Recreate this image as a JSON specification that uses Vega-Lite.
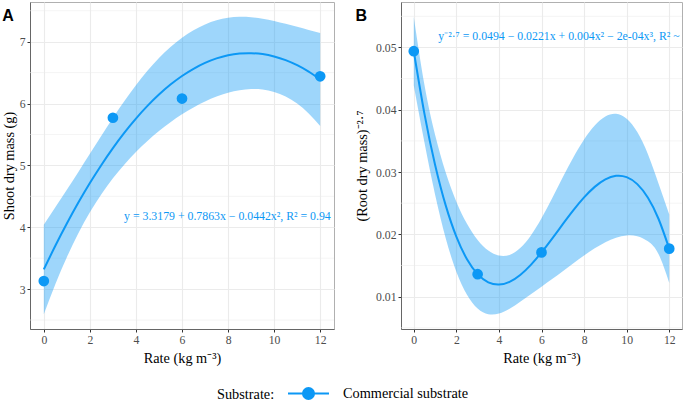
{
  "$schema": "https://vega.github.io/schema/vega-lite/v6.json",
  "padding": {"left": 1, "top": 1, "right": 0, "bottom": 0},
  "spacing": 20,
  "datasets": {
    "fitA": [
      {"x": 0, "fit": 3.318, "lo": 2.595, "hi": 4.041},
      {"x": 0.5, "fit": 3.7, "lo": 3.078, "hi": 4.322},
      {"x": 1, "fit": 4.06, "lo": 3.515, "hi": 4.605},
      {"x": 1.5, "fit": 4.398, "lo": 3.902, "hi": 4.894},
      {"x": 2, "fit": 4.714, "lo": 4.241, "hi": 5.187},
      {"x": 2.5, "fit": 5.007, "lo": 4.534, "hi": 5.48},
      {"x": 3, "fit": 5.279, "lo": 4.791, "hi": 5.767},
      {"x": 3.5, "fit": 5.529, "lo": 5.016, "hi": 6.042},
      {"x": 4, "fit": 5.756, "lo": 5.216, "hi": 6.296},
      {"x": 4.5, "fit": 5.961, "lo": 5.394, "hi": 6.528},
      {"x": 5, "fit": 6.144, "lo": 5.554, "hi": 6.734},
      {"x": 5.5, "fit": 6.306, "lo": 5.698, "hi": 6.914},
      {"x": 6, "fit": 6.445, "lo": 5.826, "hi": 7.064},
      {"x": 6.5, "fit": 6.561, "lo": 5.937, "hi": 7.185},
      {"x": 7, "fit": 6.656, "lo": 6.033, "hi": 7.279},
      {"x": 7.5, "fit": 6.729, "lo": 6.112, "hi": 7.346},
      {"x": 8, "fit": 6.78, "lo": 6.174, "hi": 7.386},
      {"x": 8.5, "fit": 6.808, "lo": 6.215, "hi": 7.401},
      {"x": 9, "fit": 6.814, "lo": 6.234, "hi": 7.394},
      {"x": 9.5, "fit": 6.799, "lo": 6.227, "hi": 7.371},
      {"x": 10, "fit": 6.761, "lo": 6.188, "hi": 7.334},
      {"x": 10.5, "fit": 6.701, "lo": 6.114, "hi": 7.288},
      {"x": 11, "fit": 6.619, "lo": 5.999, "hi": 7.239},
      {"x": 11.5, "fit": 6.515, "lo": 5.84, "hi": 7.19},
      {"x": 12, "fit": 6.389, "lo": 5.637, "hi": 7.141}
    ],
    "ptsA": [
      {"x": 0, "y": 3.13, "Substrate": "Commercial substrate"},
      {"x": 3, "y": 5.77, "Substrate": "Commercial substrate"},
      {"x": 6, "y": 6.08, "Substrate": "Commercial substrate"},
      {"x": 12, "y": 6.44, "Substrate": "Commercial substrate"}
    ],
    "minorA": [{"v": 2.5}, {"v": 3.5}, {"v": 4.5}, {"v": 5.5}, {"v": 6.5}, {"v": 7.5}],
    "fitB": [
      {"x": 0, "fit": 0.0494, "lo": 0.0439, "hi": 0.0549},
      {"x": 0.5, "fit": 0.039385, "lo": 0.03477, "hi": 0.04401},
      {"x": 1, "fit": 0.031182, "lo": 0.02638, "hi": 0.03598},
      {"x": 1.5, "fit": 0.024645, "lo": 0.01937, "hi": 0.02993},
      {"x": 2, "fit": 0.019632, "lo": 0.01401, "hi": 0.02525},
      {"x": 2.5, "fit": 0.015999, "lo": 0.01031, "hi": 0.02169},
      {"x": 3, "fit": 0.0136, "lo": 0.0081, "hi": 0.0191},
      {"x": 3.5, "fit": 0.012294, "lo": 0.00718, "hi": 0.0174},
      {"x": 4, "fit": 0.011935, "lo": 0.00728, "hi": 0.0166},
      {"x": 4.5, "fit": 0.01238, "lo": 0.00806, "hi": 0.0167},
      {"x": 5, "fit": 0.013485, "lo": 0.00919, "hi": 0.01779},
      {"x": 5.5, "fit": 0.015106, "lo": 0.01039, "hi": 0.01983},
      {"x": 6, "fit": 0.0171, "lo": 0.0116, "hi": 0.0226},
      {"x": 6.5, "fit": 0.019322, "lo": 0.01283, "hi": 0.02581},
      {"x": 7, "fit": 0.021629, "lo": 0.01409, "hi": 0.02917},
      {"x": 7.5, "fit": 0.023877, "lo": 0.01537, "hi": 0.03239},
      {"x": 8, "fit": 0.025921, "lo": 0.0166, "hi": 0.03524},
      {"x": 8.5, "fit": 0.027619, "lo": 0.01775, "hi": 0.03749},
      {"x": 9, "fit": 0.028825, "lo": 0.01873, "hi": 0.03893},
      {"x": 9.5, "fit": 0.029396, "lo": 0.01944, "hi": 0.03936},
      {"x": 10, "fit": 0.02919, "lo": 0.01981, "hi": 0.03857},
      {"x": 10.5, "fit": 0.02806, "lo": 0.01969, "hi": 0.03643},
      {"x": 11, "fit": 0.025866, "lo": 0.01887, "hi": 0.03287},
      {"x": 11.5, "fit": 0.02246, "lo": 0.0168, "hi": 0.02812},
      {"x": 12, "fit": 0.0177, "lo": 0.0122, "hi": 0.0232}
    ],
    "ptsB": [
      {"x": 0, "y": 0.0494, "Substrate": "Commercial substrate"},
      {"x": 3, "y": 0.0136, "Substrate": "Commercial substrate"},
      {"x": 6, "y": 0.0171, "Substrate": "Commercial substrate"},
      {"x": 12, "y": 0.0177, "Substrate": "Commercial substrate"}
    ],
    "minorB": [{"v": 0.005}, {"v": 0.015}, {"v": 0.025}, {"v": 0.035}, {"v": 0.045}, {"v": 0.055}]
  },
  "hconcat": [
    {
      "width": 304,
      "height": 327,
      "title": {"text": "A", "anchor": "start", "frame": "bounds", "font": "Liberation Sans", "fontSize": 16, "fontWeight": "bold", "color": "#000", "offset": -22},
      "layer": [
        {
          "data": {"name": "minorA"},
          "mark": {"type": "rule", "color": "#ebebeb", "strokeWidth": 0.55},
          "encoding": {
            "y": {"field": "v", "type": "quantitative", "scale": {"domain": [2.355, 7.641], "nice": false, "zero": false},
              "axis": {"values": [3, 4, 5, 6, 7], "format": ".0f", "title": "Shoot dry mass (g)", "titlePadding": 3, "gridWidth": 1.1}}
          }
        },
        {
          "data": {"name": "fitA"},
          "mark": {"type": "area", "color": "#0c98f5", "opacity": 0.4, "interpolate": "natural"},
          "encoding": {
            "x": {"field": "x", "type": "quantitative", "scale": {"domain": [-0.6, 12.6], "nice": false, "zero": false},
              "axis": {"values": [0,1,2,3,4,5,6,7,8,9,10,11,12], "labelExpr": "abs(datum.value/2 - round(datum.value/2)) < 0.01 ? datum.label : ''", "title": "Rate (kg m⁻³)", "labelFlush": false, "labelOverlap": false, "titlePadding": 6,
                "tickOpacity": {"condition": {"test": "abs(datum.value/2 - round(datum.value/2)) > 0.01", "value": 0}, "value": 1},
                "gridWidth": {"condition": {"test": "abs(datum.value/2 - round(datum.value/2)) > 0.01", "value": 0.55}, "value": 1.1}}},
            "y": {"field": "lo", "type": "quantitative"},
            "y2": {"field": "hi"}
          }
        },
        {
          "data": {"name": "fitA"},
          "transform": [{"calculate": "'Commercial substrate'", "as": "Substrate"}],
          "mark": {"type": "line", "strokeWidth": 2, "interpolate": "natural"},
          "encoding": {
            "x": {"field": "x", "type": "quantitative"},
            "y": {"field": "fit", "type": "quantitative"},
            "color": {"field": "Substrate", "type": "nominal", "scale": {"range": ["#0c98f5"]}}
          }
        },
        {
          "data": {"name": "ptsA"},
          "mark": {"type": "point", "filled": true, "opacity": 1, "size": 115},
          "encoding": {
            "x": {"field": "x", "type": "quantitative"},
            "y": {"field": "y", "type": "quantitative"},
            "color": {"field": "Substrate", "type": "nominal", "scale": {"range": ["#0c98f5"]},
              "legend": {"orient": "none", "legendX": 187, "legendY": 370, "direction": "horizontal", "title": "Substrate:", "titleOrient": "left", "titleAnchor": "middle", "titleFont": "Liberation Serif", "titleFontSize": 14.3, "titleFontWeight": "normal", "titleColor": "#000", "titlePadding": 12, "titleBaseline": "top",
                "labelFont": "Liberation Serif", "labelFontSize": 14.3, "labelColor": "#000", "labelOffset": 13,
                "symbolType": "M-1,0H1M0.27,0A0.27,0.27 0 1,1 -0.27,0A0.27,0.27 0 1,1 0.27,0Z", "symbolSize": 1681, "symbolStrokeWidth": 2, "symbolFillColor": "#0c98f5", "symbolStrokeColor": "#0c98f5", "symbolOpacity": 1}}
          }
        },
        {
          "data": {"values": [{}]},
          "mark": {"type": "text", "align": "right", "baseline": "middle", "font": "Liberation Serif", "fontSize": 11.8, "color": "#0c98f5"},
          "encoding": {
            "x": {"datum": 12.46, "type": "quantitative"},
            "y": {"datum": 4.18, "type": "quantitative"},
            "text": {"value": "y = 3.3179 + 0.7863x − 0.0442x², R² = 0.94"}
          }
        }
      ]
    },
    {
      "width": 281,
      "height": 327,
      "title": {"text": "B", "anchor": "start", "frame": "bounds", "font": "Liberation Sans", "fontSize": 16, "fontWeight": "bold", "color": "#000", "offset": -22},
      "layer": [
        {
          "data": {"name": "minorB"},
          "mark": {"type": "rule", "color": "#ebebeb", "strokeWidth": 0.55},
          "encoding": {
            "y": {"field": "v", "type": "quantitative", "scale": {"domain": [0.0048, 0.0573], "nice": false, "zero": false},
              "axis": {"values": [0.01, 0.02, 0.03, 0.04, 0.05], "format": ".2f", "title": "(Root dry mass)⁻²·⁷", "titlePadding": 6, "gridWidth": 1.1}}
          }
        },
        {
          "data": {"name": "fitB"},
          "mark": {"type": "area", "color": "#0c98f5", "opacity": 0.4, "interpolate": "natural"},
          "encoding": {
            "x": {"field": "x", "type": "quantitative", "scale": {"domain": [-0.6, 12.6], "nice": false, "zero": false},
              "axis": {"values": [0,1,2,3,4,5,6,7,8,9,10,11,12], "labelExpr": "abs(datum.value/2 - round(datum.value/2)) < 0.01 ? datum.label : ''", "title": "Rate (kg m⁻³)", "labelFlush": false, "labelOverlap": false, "titlePadding": 6,
                "tickOpacity": {"condition": {"test": "abs(datum.value/2 - round(datum.value/2)) > 0.01", "value": 0}, "value": 1},
                "gridWidth": {"condition": {"test": "abs(datum.value/2 - round(datum.value/2)) > 0.01", "value": 0.55}, "value": 1.1}}},
            "y": {"field": "lo", "type": "quantitative"},
            "y2": {"field": "hi"}
          }
        },
        {
          "data": {"name": "fitB"},
          "transform": [{"calculate": "'Commercial substrate'", "as": "Substrate"}],
          "mark": {"type": "line", "strokeWidth": 2, "interpolate": "natural"},
          "encoding": {
            "x": {"field": "x", "type": "quantitative"},
            "y": {"field": "fit", "type": "quantitative"},
            "color": {"field": "Substrate", "type": "nominal", "scale": {"range": ["#0c98f5"]}}
          }
        },
        {
          "data": {"name": "ptsB"},
          "mark": {"type": "point", "filled": true, "opacity": 1, "size": 115},
          "encoding": {
            "x": {"field": "x", "type": "quantitative"},
            "y": {"field": "y", "type": "quantitative"},
            "color": {"field": "Substrate", "type": "nominal", "scale": {"range": ["#0c98f5"]}}
          }
        },
        {
          "data": {"values": [{}]},
          "mark": {"type": "text", "align": "left", "baseline": "middle", "font": "Liberation Serif", "fontSize": 11.8, "color": "#0c98f5", "clip": true},
          "encoding": {
            "x": {"datum": 1.15, "type": "quantitative"},
            "y": {"datum": 0.0519, "type": "quantitative"},
            "text": {"value": "y⁻²·⁷ = 0.0494 − 0.0221x + 0.004x² − 2e-04x³, R² ~ 1"}
          }
        }
      ]
    }
  ],
  "config": {
    "font": "Liberation Serif",
    "view": {"stroke": "#b0b0b0", "strokeWidth": 1},
    "axis": {
      "labelFont": "Liberation Serif", "labelFontSize": 11.7, "labelColor": "#4d4d4d", "labelPadding": 2,
      "titleFont": "Liberation Serif", "titleFontSize": 14.3, "titleFontWeight": "normal", "titleColor": "#000",
      "tickColor": "#333333", "tickSize": 3, "domainColor": "#666666", "gridColor": "#ebebeb"
    }
  }
}
